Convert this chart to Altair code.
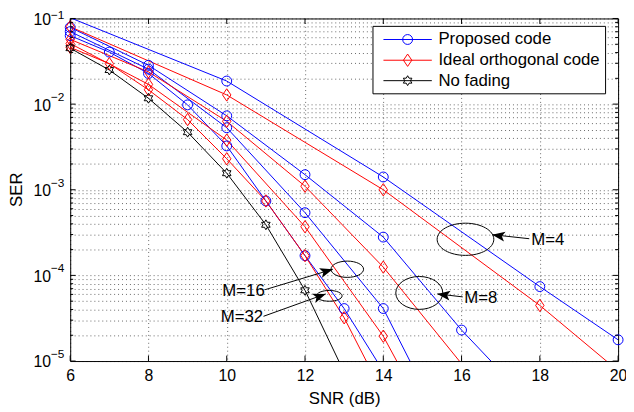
import altair as alt
import pandas as pd

FONT = "Liberation Sans, Arial, Helvetica, sans-serif"

# ---------------- data ----------------
SNR_M4 = [6, 10, 14, 18, 20]
PROP_M4 = [0.102, 0.0186, 1.41e-3, 7.4e-5, 1.77e-5]
IDEAL_M4 = [0.080, 0.0128, 1.0e-3, 4.46e-5, 7.7e-6]

SNR_M8 = [6, 8, 10, 12, 14, 16, 18]
PROP_M8 = [0.0787, 0.0284, 7.3e-3, 1.5e-3, 2.8e-4, 2.3e-5, 2.5e-6]
SNR_M8_IDEAL = [6, 8, 10, 12, 14, 16]
IDEAL_M8 = [0.057, 0.0238, 6.3e-3, 1.1e-3, 1.25e-4, 9.3e-6]

SNR_M16 = [6, 8, 10, 12, 14, 16]
PROP_M16 = [0.0703, 0.0256, 5.3e-3, 5.4e-4, 4.1e-5, 6.5e-7]
IDEAL_M16 = [0.051, 0.017, 3.8e-3, 3.7e-4, 1.95e-5, 4.0e-7]

SNR_M32 = [6, 7, 8, 9, 10, 11, 12, 13, 14]
PROP_M32 = [0.063, 0.0405, 0.0228, 9.8e-3, 3.25e-3, 7.4e-4, 1.7e-4, 4.1e-5, 7.6e-6]
IDEAL_M32 = [0.046, 0.0297, 0.0147, 6.6e-3, 2.3e-3, 7.4e-4, 1.7e-4, 3.2e-5, 4.1e-6]

SNR_NF = [6, 7, 8, 9, 10, 11, 12, 13]
NO_FADING = [0.045, 0.025, 0.0117, 4.7e-3, 1.56e-3, 3.9e-4, 6.7e-5, 7.4e-6]

CODES = ["Proposed code", "Ideal orthogonal code", "No fading"]

XTICKS = [6, 8, 10, 12, 14, 16, 18, 20]
YDECADES = [1e-1, 1e-2, 1e-3, 1e-4, 1e-5]
YEXP = ["\u22121", "\u22122", "\u22123", "\u22124", "\u22125"]
YMINOR = [m * d for d in [1e-5, 1e-4, 1e-3, 1e-2] for m in range(2, 10)]

# annotations (data coordinates)
ANN_LABELS = ["M=4", "M=8", "M=16", "M=32"]
ELL_SNR = [16.10, 14.92, 13.08, 12.62]
ELL_SER = [2.64e-4, 6.24e-5, 1.18e-4, 5.77e-5]
TIP_SNR = [16.78, 15.38, 12.71, 12.53]
TIP_SER = [2.99e-4, 6.08e-5, 1.18e-4, 6.08e-5]
TAIL_SNR = [17.73, 16.03, 10.98, 10.94]
TAIL_SER = [2.68e-4, 5.61e-5, 6.81e-5, 3.33e-5]
TXT_SNR = [17.78, 16.07, 10.97, 10.93]
TXT_SER = [2.57e-4, 5.42e-5, 6.64e-5, 3.27e-5]

# ---------------- styles ----------------
W, H = 555, 347
COLORS = ["#0000ff", "#ff0000", "#000000"]
DIAMOND = "M0,-1.25L0.85,0L0,1.25L-0.85,0Z"
HEXAGRAM = ("M0,-1L0.289,-0.5L0.866,-0.5L0.577,0L0.866,0.5L0.289,0.5L0,1"
            "L-0.289,0.5L-0.866,0.5L-0.577,0L-0.866,-0.5L-0.289,-0.5Z")
SHAPES = ["circle", DIAMOND, HEXAGRAM]
ARROW = "M0,0L-2.6,-1L-2,0L-2.6,1Z"
ELL_RX = [28.7, 23.8, 16.5, 13.0]
ELL_RATIO = [0.568, 0.70, 0.50, 0.42]
ARROW_ANGLE = [189, 188, 343, 340]
TXT_ALIGN = ["left", "left", "right", "right"]
TEXT_SIZE = 17


def ellipse_path(b, k=0.5523):
    kb = k * b
    f = lambda v: f"{v:.4f}"
    return (f"M1,0C1,{f(kb)} {f(k)},{f(b)} 0,{f(b)}"
            f"C{f(-k)},{f(b)} -1,{f(kb)} -1,0"
            f"C-1,{f(-kb)} {f(-k)},{f(-b)} 0,{f(-b)}"
            f"C{f(k)},{f(-b)} 1,{f(-kb)} 1,0Z")


rows = []


def add(series, code, xs, ys):
    for x, y in zip(xs, ys):
        rows.append(dict(series=series, code=code, snr=x, ser=y))


add("P4", CODES[0], SNR_M4, PROP_M4)
add("P8", CODES[0], SNR_M8, PROP_M8)
add("P16", CODES[0], SNR_M16, PROP_M16)
add("P32", CODES[0], SNR_M32, PROP_M32)
add("I4", CODES[1], SNR_M4, IDEAL_M4)
add("I8", CODES[1], SNR_M8_IDEAL, IDEAL_M8)
add("I16", CODES[1], SNR_M16, IDEAL_M16)
add("I32", CODES[1], SNR_M32, IDEAL_M32)
add("NF", CODES[2], SNR_NF, NO_FADING)
df = pd.DataFrame(rows)

X_SCALE = alt.Scale(domain=[6, 20], nice=False, zero=False)
Y_SCALE = alt.Scale(type="log", domain=[1e-5, 1e-1], nice=False)
GRID_COLOR = "#000000"

X_AXIS = alt.Axis(values=XTICKS, grid=True, gridDash=[1, 3], gridColor=GRID_COLOR,
                  gridOpacity=0.6, ticks=False, domain=False, labelFont=FONT,
                  labelFontSize=16, labelPadding=7, labelFlush=False, labelColor="black",
                  title="SNR (dB)", titleFont=FONT, titleFontSize=TEXT_SIZE,
                  titleFontWeight="normal", titleColor="black", titlePadding=7)
Y_AXIS = alt.Axis(values=YDECADES + YMINOR, grid=True, gridDash=[1, 3],
                  gridColor=GRID_COLOR, gridOpacity=0.6, ticks=False, domain=False,
                  labels=False, title="")


def X(field):
    return alt.X(field, scale=X_SCALE, axis=X_AXIS)


def Y(field):
    return alt.Y(field, scale=Y_SCALE, axis=Y_AXIS)


color = alt.Color("code:N", scale=alt.Scale(domain=CODES, range=COLORS), legend=None)

lines = alt.Chart(df).mark_line(strokeWidth=1, clip=True).encode(
    x=X("snr:Q"), y=Y("ser:Q"), color=color, detail="series:N",
)

points = alt.Chart(df).transform_filter(
    "datum.ser >= 1e-5 && datum.ser <= 0.1"
).mark_point(filled=False, size=100, strokeWidth=1, opacity=1).encode(
    x=X("snr:Q"), y=Y("ser:Q"), color=color,
    shape=alt.Shape("code:N", scale=alt.Scale(domain=CODES, range=SHAPES), legend=None),
)

layers = [lines, points]

# inward ticks
MAJ, MIN = 5.5, 3
xt = pd.DataFrame({"v": XTICKS})
for y0, y1 in [(0, MAJ), (H - MAJ, H)]:
    layers.append(alt.Chart(xt).mark_rule(color="black", strokeWidth=1).encode(
        x=X("v:Q"), y=alt.value(y0), y2=alt.value(y1)))
for vals, L in [(YDECADES, MAJ), (YMINOR, MIN)]:
    yt = pd.DataFrame({"v": vals})
    for x0, x1 in [(0, L), (W - L, W)]:
        layers.append(alt.Chart(yt).mark_rule(color="black", strokeWidth=1).encode(
            y=Y("v:Q"), x=alt.value(x0), x2=alt.value(x1)))

# y tick labels 10^k
ylab = pd.DataFrame({"v": YDECADES, "exp": YEXP})
layers.append(alt.Chart(ylab).mark_text(text="10", align="right", baseline="middle",
                                        dx=-19.5, dy=1.5, font=FONT, fontSize=16,
                                        color="black").encode(
    x=alt.value(0), y=Y("v:Q")))
layers.append(alt.Chart(ylab.iloc[1:]).mark_text(align="left", baseline="middle", dx=-19.5,
                                                 dy=-7, font=FONT, fontSize=12,
                                                 color="black").encode(
    x=alt.value(0), y=Y("v:Q"), text="exp:N"))
layers.append(alt.Chart(ylab.iloc[:1]).mark_text(align="left", baseline="middle", dx=-19.5,
                                                 dy=-3.5, font=FONT, fontSize=12,
                                                 color="black").encode(
    x=alt.value(0), y=Y("v:Q"), text="exp:N"))

# y title
layers.append(alt.Chart(pd.DataFrame({"t": ["SER"]})).mark_text(
    angle=270, align="center", baseline="middle", font=FONT, fontSize=TEXT_SIZE,
    color="black").encode(x=alt.value(-54.3), y=alt.value(H / 2), text="t:N"))

# annotations
ann = pd.DataFrame({"lab": ANN_LABELS, "ex": ELL_SNR, "ey": ELL_SER,
                    "px": TIP_SNR, "py": TIP_SER, "tx": TAIL_SNR, "ty": TAIL_SER,
                    "lx": TXT_SNR, "ly": TXT_SER})
layers.append(alt.Chart(ann).mark_rule(color="black", strokeWidth=1).encode(
    x=X("tx:Q"), x2="px:Q", y=Y("ty:Q"), y2="py:Q"))
for i in range(len(ANN_LABELS)):
    one = ann.iloc[[i]]
    layers.append(alt.Chart(one).mark_point(
        shape=ellipse_path(ELL_RATIO[i]), size=(2 * ELL_RX[i]) ** 2, filled=False,
        color="black", strokeWidth=1, opacity=1).encode(x=X("ex:Q"), y=Y("ey:Q")))
    layers.append(alt.Chart(one).mark_point(
        shape=ARROW, size=100, filled=True, color="black", opacity=1,
        angle=ARROW_ANGLE[i]).encode(x=X("px:Q"), y=Y("py:Q")))
    layers.append(alt.Chart(one).mark_text(
        align=TXT_ALIGN[i], baseline="middle", font=FONT, fontSize=TEXT_SIZE,
        color="black").encode(x=X("lx:Q"), y=Y("ly:Q"), text="lab:N"))

# legend
LEG_X0, LEG_X1, LEG_Y0, LEG_Y1 = 306.7, 542.3, 8, 76.3
LEG_ROWS = [21.3, 42.3, 63.0]
dummy = pd.DataFrame({"d": [0]})
layers.append(alt.Chart(dummy).mark_rect(fill="white", stroke="black", strokeWidth=1).encode(
    x=alt.value(LEG_X0), x2=alt.value(LEG_X1), y=alt.value(LEG_Y0), y2=alt.value(LEG_Y1)))
for i, code in enumerate(CODES):
    row = pd.DataFrame({"code": [code]})
    ly = LEG_ROWS[i]
    layers.append(alt.Chart(row).mark_rule(color=COLORS[i], strokeWidth=1).encode(
        x=alt.value(317.3), x2=alt.value(366.3), y=alt.value(ly)))
    layers.append(alt.Chart(row).mark_point(shape=SHAPES[i], size=100, filled=False,
                                            color=COLORS[i], strokeWidth=1, opacity=1).encode(
        x=alt.value(341.8), y=alt.value(ly)))
    layers.append(alt.Chart(row).mark_text(align="left", baseline="middle", font=FONT,
                                           fontSize=TEXT_SIZE, color="black").encode(
        x=alt.value(373), y=alt.value(ly), text="code:N"))

chart = alt.layer(*layers).properties(
    width=W, height=H,
    autosize=alt.AutoSizeParams(type="none"),
    padding={"left": 63, "top": 8, "right": 8, "bottom": 48},
).configure_view(stroke="black", strokeWidth=1)

chart.save("out.html", embed_options={"renderer": "svg", "actions": False})
